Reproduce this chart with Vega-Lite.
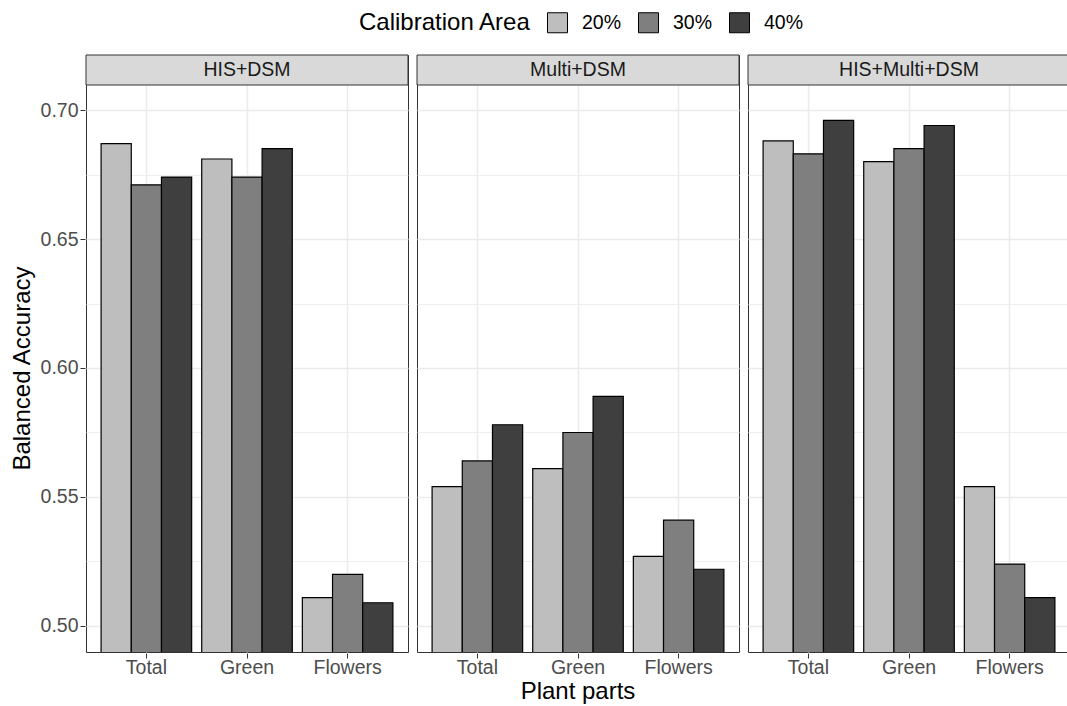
{
  "$schema": "https://vega.github.io/schema/vega-lite/v6.json",
  "padding": {"left": 10, "top": 12, "right": 0, "bottom": 0},
  "background": "white",
  "data": {
    "values": [
      {"panel": "HIS+DSM", "part": "Total", "area": "20%", "value": 0.687},
      {"panel": "HIS+DSM", "part": "Total", "area": "30%", "value": 0.671},
      {"panel": "HIS+DSM", "part": "Total", "area": "40%", "value": 0.674},
      {"panel": "HIS+DSM", "part": "Green", "area": "20%", "value": 0.681},
      {"panel": "HIS+DSM", "part": "Green", "area": "30%", "value": 0.674},
      {"panel": "HIS+DSM", "part": "Green", "area": "40%", "value": 0.685},
      {"panel": "HIS+DSM", "part": "Flowers", "area": "20%", "value": 0.511},
      {"panel": "HIS+DSM", "part": "Flowers", "area": "30%", "value": 0.520},
      {"panel": "HIS+DSM", "part": "Flowers", "area": "40%", "value": 0.509},
      {"panel": "Multi+DSM", "part": "Total", "area": "20%", "value": 0.554},
      {"panel": "Multi+DSM", "part": "Total", "area": "30%", "value": 0.564},
      {"panel": "Multi+DSM", "part": "Total", "area": "40%", "value": 0.578},
      {"panel": "Multi+DSM", "part": "Green", "area": "20%", "value": 0.561},
      {"panel": "Multi+DSM", "part": "Green", "area": "30%", "value": 0.575},
      {"panel": "Multi+DSM", "part": "Green", "area": "40%", "value": 0.589},
      {"panel": "Multi+DSM", "part": "Flowers", "area": "20%", "value": 0.527},
      {"panel": "Multi+DSM", "part": "Flowers", "area": "30%", "value": 0.541},
      {"panel": "Multi+DSM", "part": "Flowers", "area": "40%", "value": 0.522},
      {"panel": "HIS+Multi+DSM", "part": "Total", "area": "20%", "value": 0.688},
      {"panel": "HIS+Multi+DSM", "part": "Total", "area": "30%", "value": 0.683},
      {"panel": "HIS+Multi+DSM", "part": "Total", "area": "40%", "value": 0.696},
      {"panel": "HIS+Multi+DSM", "part": "Green", "area": "20%", "value": 0.680},
      {"panel": "HIS+Multi+DSM", "part": "Green", "area": "30%", "value": 0.685},
      {"panel": "HIS+Multi+DSM", "part": "Green", "area": "40%", "value": 0.694},
      {"panel": "HIS+Multi+DSM", "part": "Flowers", "area": "20%", "value": 0.554},
      {"panel": "HIS+Multi+DSM", "part": "Flowers", "area": "30%", "value": 0.524},
      {"panel": "HIS+Multi+DSM", "part": "Flowers", "area": "40%", "value": 0.511}
    ]
  },
  "facet": {
    "column": {
      "field": "panel",
      "type": "nominal",
      "sort": ["HIS+DSM", "Multi+DSM", "HIS+Multi+DSM"],
      "header": {
        "labels": false,
        "title": "Plant parts",
        "titleOrient": "bottom",
        "titleFontSize": 24,
        "titleFontWeight": "normal",
        "titleColor": "black",
        "titleFont": "Liberation Sans",
        "titlePadding": -7
      }
    }
  },
  "spacing": 7,
  "spec": {
    "width": 322,
    "height": 597,
    "encoding": {
      "x": {
        "field": "part",
        "type": "nominal",
        "sort": ["Total", "Green", "Flowers"],
        "scale": {"domain": ["Total", "Green", "Flowers"], "paddingInner": 0.1, "paddingOuter": 0.15},
        "axis": {
          "title": null,
          "labelAngle": 0,
          "labelFontSize": 19.5,
          "labelColor": "#4D4D4D",
          "labelPadding": 0,
          "tickSize": 5,
          "tickColor": "#333333",
          "domain": false,
          "grid": true,
          "gridColor": "#EBEBEB",
          "gridWidth": 1.5,
          "bandPosition": 0.5
        }
      }
    },
    "layer": [
      {
        "mark": {"type": "bar", "stroke": "black", "strokeWidth": 1.2, "clip": true},
        "encoding": {
          "xOffset": {
            "field": "area",
            "type": "nominal",
            "sort": ["20%", "30%", "40%"],
            "scale": {"paddingInner": 0, "paddingOuter": 0}
          },
          "y": {
            "field": "value",
            "type": "quantitative",
            "scale": {"domain": [0.48992, 0.72132], "zero": false, "nice": false},
            "axis": {
              "title": "Balanced Accuracy",
              "titleFontSize": 24,
              "titleFontWeight": "normal",
              "titleColor": "black",
              "titlePadding": 6,
              "titleY": 313,
              "values": [0.5, 0.525, 0.55, 0.575, 0.6, 0.625, 0.65, 0.675, 0.7],
              "labelExpr": "round(datum.value*1000) % 50 == 0 ? format(datum.value, '.2f') : ''",
              "labelFontSize": 19.5,
              "labelColor": "#4D4D4D",
              "labelPadding": 2,
              "tickSize": 5,
              "tickColor": "#333333",
              "tickOpacity": {"condition": {"test": "round(datum.value*1000) % 50 == 0", "value": 1}, "value": 0},
              "domain": false,
              "grid": true,
              "gridColor": "#EBEBEB",
              "gridWidth": {"condition": {"test": "round(datum.value*1000) % 50 == 0", "value": 1.5}, "value": 0.8}
            }
          },
          "fill": {
            "field": "area",
            "type": "nominal",
            "sort": ["20%", "30%", "40%"],
            "scale": {"domain": ["20%", "30%", "40%"], "range": ["#BEBEBE", "#7F7F7F", "#3F3F3F"]},
            "legend": {
              "title": "Calibration Area",
              "orient": "none",
              "direction": "horizontal",
              "titleOrient": "left",
              "legendX": 273,
              "legendY": -43
            }
          }
        }
      },
      {
        "transform": [{"filter": "datum.part === 'Total' && datum.area === '20%'"}],
        "mark": {"type": "rect", "fill": "#D9D9D9", "stroke": "#333333", "strokeWidth": 1},
        "encoding": {
          "x": {"value": 0},
          "x2": {"value": "width"},
          "y": {"datum": 0.72132},
          "y2": {"datum": 0.70969}
        }
      },
      {
        "transform": [{"filter": "datum.part === 'Total' && datum.area === '20%'"}],
        "mark": {"type": "text", "fontSize": 19.5, "color": "#1A1A1A", "baseline": "middle", "align": "center"},
        "encoding": {
          "x": {"datum": "Green"},
          "y": {"datum": 0.7155},
          "text": {"field": "panel"}
        }
      }
    ]
  },
  "config": {
    "font": "Liberation Sans",
    "view": {"stroke": "#333333", "strokeWidth": 1},
    "legend": {
      "symbolType": "square",
      "symbolSize": 400,
      "symbolStrokeColor": "black",
      "symbolStrokeWidth": 1,
      "labelFontSize": 19.5,
      "labelColor": "black",
      "labelOffset": 14,
      "columnPadding": 14,
      "titleFontSize": 24,
      "titleFontWeight": "normal",
      "titleColor": "black",
      "titlePadding": 15,
      "titleBaseline": "middle"
    }
  }
}
